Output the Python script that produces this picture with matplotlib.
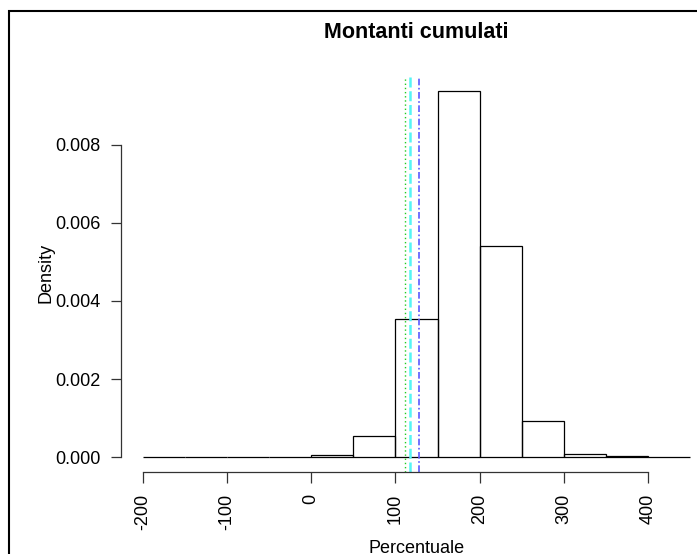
import numpy as np
import matplotlib
matplotlib.use("Agg")
import matplotlib.pyplot as plt
from matplotlib.patches import Rectangle

plt.rcParams['font.family'] = ['Liberation Sans', 'DejaVu Sans']

# Data
bin_left = [-200, -150, -100, -50, 0, 50, 100, 150, 200, 250, 300, 350, 400]
bin_width = 50
density = [0.00001, 0.0, 0.00001, 0.00001, 0.00005, 0.000544, 0.00353,
           0.00936, 0.0054, 0.00093, 0.000077, 0.00004, 0.00001]
x_ticks = [-200, -100, 0, 100, 200, 300, 400]
y_ticks = [0.000, 0.002, 0.004, 0.006, 0.008]
y_ticklabels = ["0.000", "0.002", "0.004", "0.006", "0.008"]
vline_green = 111.7   # dotted
vline_cyan = 117.2    # dashed
vline_blue = 127.9    # dash-dot
title = "Montanti cumulati"
xlabel = "Percentuale"
ylabel = "Density"

W, H = 697, 554
fig = plt.figure(figsize=(W / 100, H / 100), dpi=100)
fig.patch.set_facecolor('white')

left_px, right_px = 120.8, 712.3
top_px, bottom_px = 76.7, 471.9
ax = fig.add_axes([left_px / W, (H - bottom_px) / H,
                   (right_px - left_px) / W, (bottom_px - top_px) / H])
ax.set_facecolor('none')

xmin, xmax = bin_left[0], bin_left[-1] + bin_width
xr = xmax - xmin
ax.set_xlim(xmin - 0.04 * xr, xmax + 0.04 * xr)
ymax = max(density)
ax.set_ylim(-0.04 * ymax, ymax * 1.04)

ax.bar(bin_left, density, width=bin_width, align='edge', fill=False,
       edgecolor='black', linewidth=0.9, clip_on=False)

ax.axvline(vline_green, color='#22cc22', linestyle=(0, (1, 2)), linewidth=1.0)
ax.axvline(vline_cyan, color='#55f5f5', linestyle=(0, (4, 1.5)), linewidth=1.8)
ax.axvline(vline_blue, color='#5a5aff', linestyle=(0, (4, 1.5, 1, 1.5)), linewidth=1.2)

for s in ['top', 'right']:
    ax.spines[s].set_visible(False)
ax.spines['left'].set_bounds(y_ticks[0], y_ticks[-1])
ax.spines['bottom'].set_bounds(x_ticks[0], x_ticks[-1])
for s in ['left', 'bottom']:
    ax.spines[s].set_linewidth(0.9)
    ax.spines[s].set_color('#333333')

ax.set_xticks(x_ticks)
ax.set_xticklabels([str(t) for t in x_ticks], rotation=90, fontsize=13)
ax.set_yticks(y_ticks)
ax.set_yticklabels(y_ticklabels, fontsize=13)
ax.tick_params(axis='x', length=7.8, width=0.9, pad=8.0, color='#333333')
ax.tick_params(axis='y', length=7.2, width=0.9, pad=7.2, color='#333333')

fig.text(416.5 / W, 1 - 33 / H, title, ha='center', va='center',
         fontsize=15.5, fontweight='bold')
fig.text(45.5 / W, 1 - 273 / H, ylabel, ha='center', va='center',
         rotation=90, fontsize=13)
fig.text(416.5 / W, 1 - 553 / H, xlabel, ha='center', va='baseline',
         fontsize=13)

fig.patches.append(Rectangle((8.5 / W, -0.1), 1.2, 1.1 - 11 / H,
                             transform=fig.transFigure, fill=False,
                             edgecolor='black', linewidth=1.5))

fig.savefig('out.png', dpi=100)
